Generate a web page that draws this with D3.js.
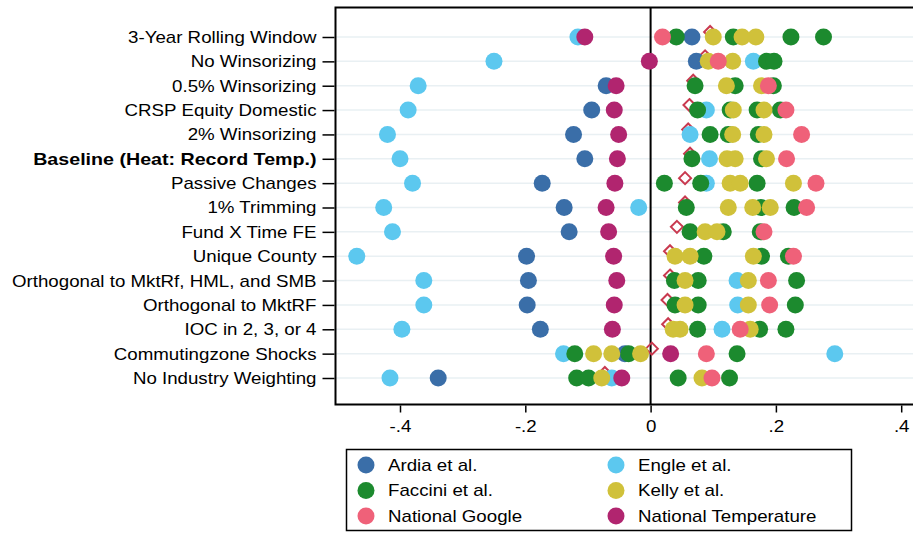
<!DOCTYPE html>
<html>
<head>
<meta charset="utf-8">
<script src="https://cdn.jsdelivr.net/npm/d3@7"></script>
<style>
  body { margin: 0; background: #fff; }
  svg { display: block; font-family: "Liberation Sans", Arial, sans-serif; }
</style>
</head>
<body>
<svg id="chart" width="913" height="533"></svg>
<script>
const specs = [
  "3-Year Rolling Window", "No Winsorizing", "0.5% Winsorizing", "CRSP Equity Domestic",
  "2% Winsorizing", "Baseline (Heat: Record Temp.)", "Passive Changes", "1% Trimming",
  "Fund X Time FE", "Unique County", "Orthogonal to MktRf, HML, and SMB",
  "Orthogonal to MktRF", "IOC in 2, 3, or 4", "Commutingzone Shocks", "No Industry Weighting"
];
const boldSpec = "Baseline (Heat: Record Temp.)";
const xTicks = [-0.4, -0.2, 0, 0.2, 0.4];

// one entry per spec row, each a list of estimates
const ardia = [[0.066], [0.073], [-0.071], [-0.094], [-0.123], [-0.105], [-0.173], [-0.138],
  [-0.130], [-0.198], [-0.195], [-0.197], [-0.176], [-0.041], [-0.339]];
const engle = [[-0.116], [-0.250, 0.164], [-0.371], [-0.387, 0.089], [-0.420, 0.063],
  [-0.400, 0.094], [-0.380, 0.089], [-0.426, -0.019], [-0.412], [-0.469], [-0.362, 0.138],
  [-0.362, 0.139], [-0.397, 0.114], [-0.139, 0.294], [-0.416, -0.062]];
const faccini = [[0.041, 0.132, 0.224, 0.276], [0.185, 0.197], [0.071, 0.135, 0.196],
  [0.075, 0.127, 0.170, 0.207], [0.095, 0.124, 0.172], [0.066, 0.177], [0.022, 0.080, 0.170],
  [0.057, 0.176, 0.229], [0.063, 0.116, 0.175], [0.085, 0.177, 0.220], [0.038, 0.076, 0.233],
  [0.039, 0.076, 0.231], [0.075, 0.174, 0.216], [-0.121, -0.035, 0.138], [-0.118, -0.099, 0.044, 0.126]];
const kelly = [[0.100, 0.146, 0.168], [0.092, 0.131], [0.121, 0.177], [0.132, 0.181], [0.131, 0.181],
  [0.122, 0.135, 0.185], [0.127, 0.143, 0.228], [0.124, 0.163, 0.191], [0.087, 0.106],
  [0.039, 0.063, 0.164], [0.055, 0.156], [0.055, 0.156], [0.036, 0.047, 0.159],
  [-0.091, -0.062, -0.016], [-0.078, 0.082]];
const natGoogle = [[0.019], [0.108], [0.188], [0.216], [0.241], [0.217], [0.264], [0.249],
  [0.181], [0.228], [0.188], [0.190], [0.143], [0.089], [0.098]];
const natTemp = [[-0.105], [-0.002], [-0.055], [-0.058], [-0.051], [-0.053], [-0.057], [-0.071],
  [-0.067], [-0.059], [-0.054], [-0.058], [-0.061], [0.032], [-0.046]];
// hollow diamond reference marker per row
const benchmark = [0.095, 0.087, 0.068, 0.062, 0.060, 0.063, 0.055, 0.055, 0.042, 0.031,
  0.031, 0.027, 0.028, 0.002, -0.073];

const series = [
  {name: "Ardia et al.", color: "#3a6ea8", values: ardia},
  {name: "Engle et al.", color: "#5cc8ef", values: engle},
  {name: "Faccini et al.", color: "#1c8a2e", values: faccini},
  {name: "Kelly et al.", color: "#d0c13a", values: kelly},
  {name: "National Google", color: "#ef6179", values: natGoogle},
  {name: "National Temperature", color: "#b1256f", values: natTemp}
];

const svg = d3.select("#chart");
const frame = {left: 335.5, top: 7.5, right: 916, bottom: 404.5};
const fontSize = 17;

// the reference text is a bit wider than Liberation Sans, so stretch it
function widen(sel, k) {
  sel.each(function(d) {
    const f = typeof k === "function" ? k(d) : k;
    const len = this.getComputedTextLength();
    d3.select(this).attr("textLength", len * f).attr("lengthAdjust", "spacingAndGlyphs");
  });
}

const x = d3.scaleLinear().domain([-0.4, 0.4]).range([400, 901.2]);
const y = d3.scalePoint().domain(specs).range([37, 378]);

// row guide lines
svg.append("g")
  .selectAll("line")
  .data(specs)
  .join("line")
  .attr("x1", frame.left).attr("x2", frame.right)
  .attr("y1", d => y(d)).attr("y2", d => y(d))
  .attr("stroke", "#e9f0f3").attr("stroke-width", 1.5);

// zero line
svg.append("line")
  .attr("x1", x(0)).attr("x2", x(0))
  .attr("y1", frame.top).attr("y2", frame.bottom)
  .attr("stroke", "#000").attr("stroke-width", 2);

// diamonds sit behind the dots, nudged up a little
const dm = 6;
svg.append("g")
  .selectAll("path")
  .data(benchmark)
  .join("path")
  .attr("d", (d, i) => {
    const cx = x(d), cy = y(specs[i]) - 5;
    return `M${cx},${cy - dm}L${cx + dm},${cy}L${cx},${cy + dm}L${cx - dm},${cy}Z`;
  })
  .attr("fill", "none")
  .attr("stroke", "#c9394f")
  .attr("stroke-width", 2);

series.forEach(s => {
  const pts = [];
  s.values.forEach((row, i) => row.forEach(v => pts.push({spec: specs[i], v})));
  svg.append("g")
    .selectAll("circle")
    .data(pts)
    .join("circle")
    .attr("cx", d => x(d.v))
    .attr("cy", d => y(d.spec))
    .attr("r", 8.5)
    .attr("fill", s.color);
});

// frame
svg.append("path")
  .attr("d", `M${frame.right},${frame.top}H${frame.left}V${frame.bottom}H${frame.right}`)
  .attr("fill", "none")
  .attr("stroke", "#000")
  .attr("stroke-width", 2);

// x axis
const xAxis = svg.append("g").attr("transform", `translate(0,${frame.bottom + 1})`)
  .call(d3.axisBottom(x).tickValues(xTicks).tickSize(7).tickPadding(7)
    .tickFormat(d => d === 0 ? "0" : (d < 0 ? "-" : "") + d3.format(".1f")(Math.abs(d)).replace(/^0/, "")));
xAxis.select(".domain").remove();
xAxis.selectAll("line").attr("stroke", "#000").attr("stroke-width", 1.5);
xAxis.selectAll("text").attr("font-size", fontSize).attr("fill", "#000")
  .attr("font-family", "Liberation Sans, Arial, sans-serif")
  .call(widen, 1.1);

// y axis
const yAxis = svg.append("g").attr("transform", `translate(${frame.left - 1},0)`)
  .call(d3.axisLeft(y).tickSize(12).tickPadding(6));
yAxis.select(".domain").remove();
yAxis.selectAll("line").attr("stroke", "#000").attr("stroke-width", 1.5);
yAxis.selectAll("text")
  .attr("font-size", fontSize).attr("fill", "#000")
  .attr("font-family", "Liberation Sans, Arial, sans-serif")
  .attr("font-weight", d => d === boldSpec ? "bold" : null)
  .call(widen, d => d === boldSpec ? 1.155 : 1.1);

// legend
const legend = svg.append("g");
legend.append("rect")
  .attr("x", 346.5).attr("y", 449.5).attr("width", 505).attr("height", 81)
  .attr("fill", "#fff").attr("stroke", "#000").attr("stroke-width", 1.5);
const legRows = d3.scalePoint().domain([0, 1, 2]).range([465, 516]);
const legCols = d3.scalePoint().domain([0, 1]).range([366, 616]);
series.forEach((s, i) => {
  const row = Math.floor(i / 2), col = i % 2;
  const g = legend.append("g")
    .attr("transform", `translate(${legCols(col)},${legRows(row)})`);
  g.append("circle").attr("r", 8.5).attr("fill", s.color);
  g.append("text")
    .attr("x", 22).attr("dy", "0.35em")
    .attr("font-size", fontSize)
    .text(s.name)
    .call(widen, 1.1);
});
</script>
</body>
</html>
